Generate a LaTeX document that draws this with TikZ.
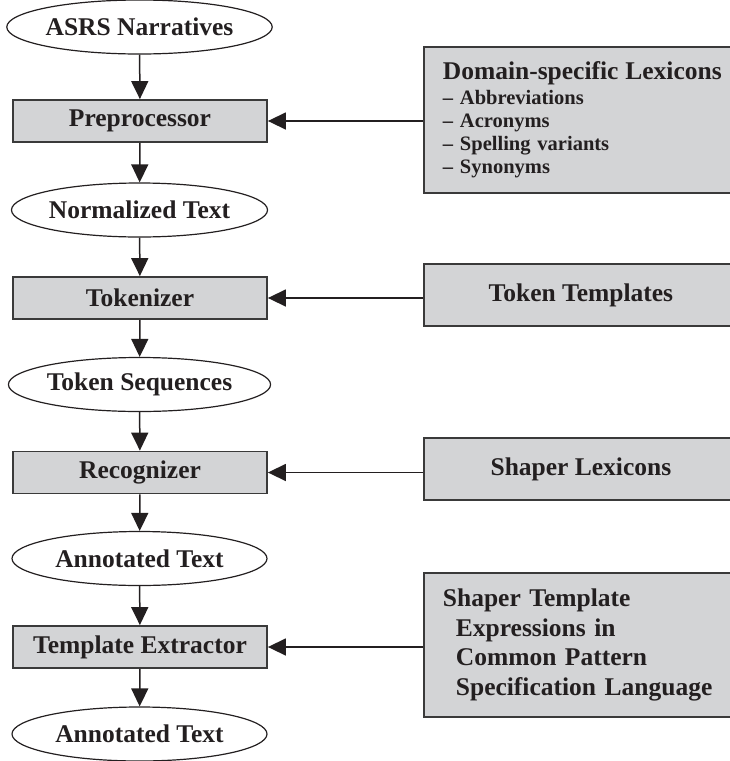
\documentclass[tikz,border=0pt]{standalone}
\usepackage{fontspec}
\setmainfont{Liberation Serif}
\usetikzlibrary{shapes,arrows.meta,positioning}
\definecolor{boxgray}{RGB}{211,212,214}
\definecolor{inkdark}{RGB}{35,31,32}
\definecolor{edgedark}{RGB}{58,58,58}
\tikzset{%
    data/.style={%
        ellipse, minimum width=255pt, minimum height=54pt, inner sep=0pt, draw=inkdark, line width=1.2pt, fill=white, text=inkdark, font=\fontsize{25.5}{30}\selectfont\bfseries
    },
    stage/.style={%
        rectangle, minimum width=254pt, minimum height=42pt, inner sep=0pt, text centered, draw=edgedark, line width=1.8pt, fill=boxgray, text=inkdark, font=\fontsize{25.5}{30}\selectfont\bfseries
    },
    resource/.style={%
        rectangle, minimum width=314pt, anchor=west, draw=edgedark, line width=1.8pt, fill=boxgray, text=inkdark, font=\fontsize{25.5}{30}\selectfont\bfseries
    },
    resource_text/.style={%
        align=left, text width=276pt, inner xsep=19pt
    },
    flow/.style={%
        -{Triangle[width=17pt,length=18pt]}, line width=1.5pt, draw=inkdark
    },
}
\begin{document}
\begin{tikzpicture}[x=1pt,y=-1pt]

    \useasboundingbox (0,0) rectangle (730,761);

    \begin{scope}
      \node[data] (narratives) at (139.5,27) {ASRS Narratives};
      \node[stage] (prep) at (140,121) {Preprocessor};
      \node[data] (normtext) at (139.5,210) {Normalized Text};
      \node[stage] (tokenizer) at (140,298) {Tokenizer};
      \node[data] (tokseq) at (139.5,384.5) {Token Sequences};
      \node[stage] (recognizer) at (140,472.5) {Recognizer};
      \node[data] (annot) at (139.5,558.5) {Annotated Text};
      \node[stage] (extractor) at (140,647) {Template Extractor};
      \node[data] (annotout) at (139.5,734) {Annotated Text};
    \end{scope}

    \begin{scope}
      \node[resource, resource_text, minimum height=146pt, font=\fontsize{20.5}{23}\selectfont\bfseries] (lexicons) at (423,120)
        {\mbox{\fontsize{25.5}{30}\selectfont Domain-specific Lexicons}\\[2pt]
         -- Abbreviations\\ -- Acronyms\\ -- Spelling variants\\ -- Synonyms};
      \node[resource, minimum height=62pt] (templates) at (423,295) {Token Templates};
      \node[resource, minimum height=62pt] (shaperlex) at (423,469) {Shaper Lexicons};
      \node[resource, resource_text, minimum height=144pt, font=\fontsize{25.5}{29.7}\selectfont\bfseries] (shapertpl) at (423,645)
        {Shaper Template\\ \hspace*{13pt}Expressions in\\ \hspace*{13pt}Common Pattern\\ \hspace*{13pt}Specification Language};
    \end{scope}

    \draw[flow] (narratives) -- (prep);
    \draw[flow] (prep) -- (normtext);
    \draw[flow] (normtext) -- (tokenizer);
    \draw[flow] (tokenizer) -- (tokseq);
    \draw[flow] (tokseq) -- (recognizer);
    \draw[flow] (recognizer) -- (annot);
    \draw[flow] (annot) -- (extractor);
    \draw[flow] (extractor) -- (annotout);

    \draw[flow] (lexicons.west |- prep) -- (prep.east);
    \draw[flow] (templates.west |- tokenizer) -- (tokenizer.east);
    \draw[flow] (shaperlex.west |- recognizer) -- (recognizer.east);
    \draw[flow] (shapertpl.west |- extractor) -- (extractor.east);

  \end{tikzpicture}
\end{document}
